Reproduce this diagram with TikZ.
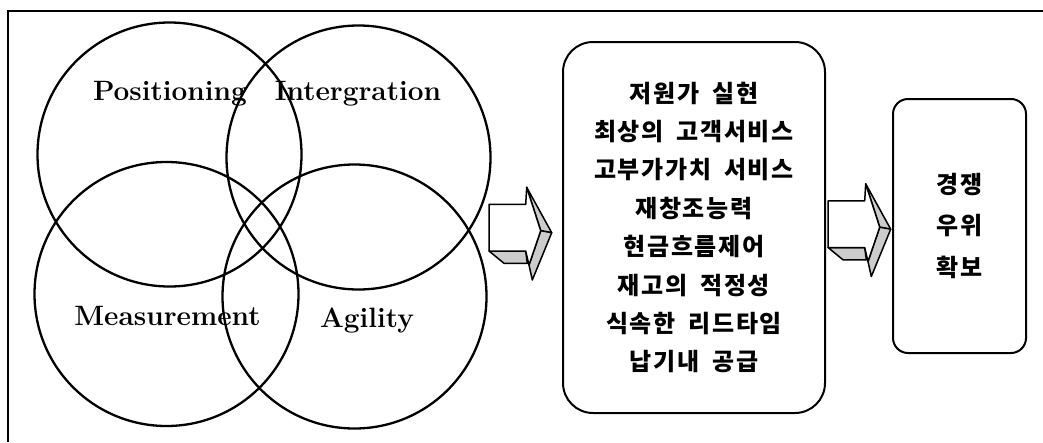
\documentclass[tikz,border=0pt]{standalone}
\usepackage{fontspec}
\newfontfamily\kor{Noto Sans CJK KR}[LetterSpace=7, WordSpace=1.8]
\usepackage{tikz}
\usetikzlibrary{positioning, calc}

\begin{document}
\begin{tikzpicture}[x=1pt, y=-1pt,
    ring/.style={circle, draw, line width=2.3pt, minimum size=264pt, inner sep=0pt},
    ringtext/.style={anchor=base, inner sep=0pt, font=\fontsize{28}{30}\selectfont\bfseries},
    listbox/.style={rectangle, draw, line width=2pt, rounded corners=30pt, minimum width=262pt, minimum height=371pt, align=center, font=\kor\bfseries\fontsize{24}{38.4}\selectfont},
    goalbox/.style={rectangle, draw, line width=2pt, rounded corners=15pt, minimum width=133pt, minimum height=254pt, align=center, font=\kor\bfseries\fontsize{24}{41.5}\selectfont},
    sideface/.style={draw, line width=1.5pt, fill=gray!40, line join=round},
    frontface/.style={draw, line width=1.5pt, fill=white, line join=round},
    blockarrow/.pic={
        \filldraw[sideface] (37.7,-40.2) -- (62.7,5.2) -- (51.7,3.2) -- cycle;
        \filldraw[sideface] (51.7,3.2) -- (62.7,5.2) -- (43.3,52.5) -- (40,37.5) -- cycle;
        \filldraw[sideface] (0,23.5) -- (15,35.8) -- (38.3,35.8) -- (36.7,23.5) -- cycle;
        \filldraw[frontface] (0,-23.2) -- (36.7,-23.2) -- (37.7,-40.2) -- (51.7,3.2)
            -- (40,37.5) -- (36.7,23.5) -- (0,23.5) -- cycle;
    }
]
\useasboundingbox (0,0) rectangle (1043,442);

% Frame
\draw[line width=1.3pt] (8,442) -- (8,11) -- (1043,11);

% Circles
\node[ring] (pos) at (169.5,154.5) {};
\node[ring] (int) at (358.5,157.5) {};
\node[ring] (mea) at (166.5,294) {};
\node[ring] (agi) at (354.5,296.5) {};

\node[ringtext] (postext) at (170,100) {Positioning};
\node[ringtext] (inttext) at (358,100) {Intergration};
\node[ringtext] (meatext) at (167.5,325) {Measurement};
\node[ringtext] (agitext) at (367,327) {Agility};

% Boxes
\node[listbox] (list) at (694,227.5) {저원가 실현\\최상의 고객서비스\\고부가가치 서비스\\재창조능력\\현금흐름제어\\재고의 적정성\\식속한 리드타임\\납기내 공급};
\node[goalbox] (goal) at (959.5,226) {경쟁\\우위\\확보};

% Arrows
\pic at ($(list.west)+(-73,0)$) {blockarrow};
\pic at ($(list.east)+(2,-3.5)$) {blockarrow};

\end{tikzpicture}
\end{document}
